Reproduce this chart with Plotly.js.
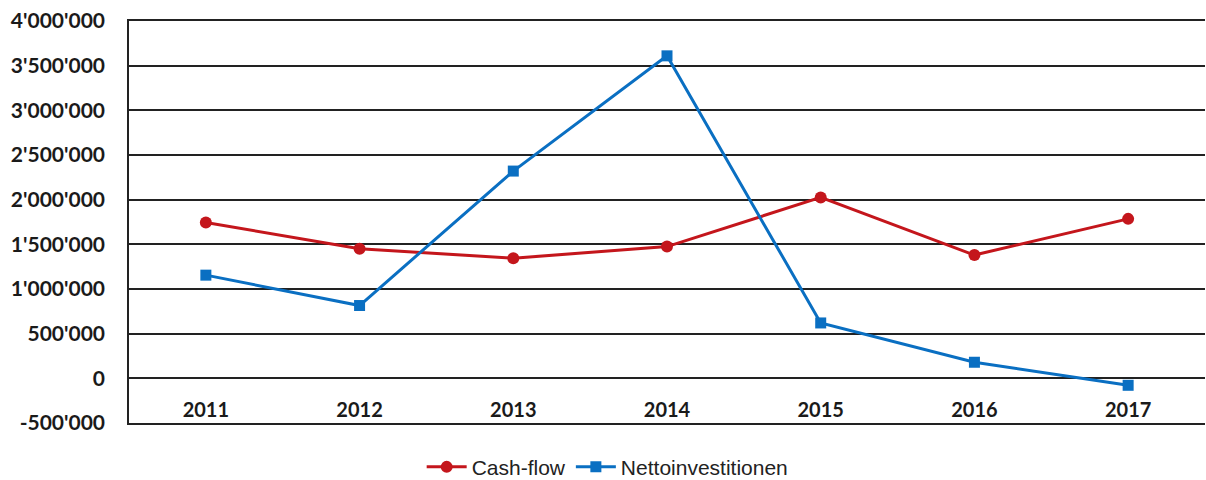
<!DOCTYPE html>
<html>
<head>
<meta charset="utf-8">
<script src="https://cdn.plot.ly/plotly-3.0.1.min.js"></script>
<style>
  html, body { margin: 0; padding: 0; background: #fff; }
  #chart { width: 1206px; height: 480px; }
</style>
</head>
<body>
<div id="chart"></div>
<script>
const years = ['2011', '2012', '2013', '2014', '2015', '2016', '2017'];
const cashFlow = [1745000, 1450000, 1345000, 1475000, 2025000, 1380000, 1785000];
const nettoinvestitionen = [1155000, 815000, 2320000, 3610000, 620000, 180000, -78000];
const yTickVals = [-500000, 0, 500000, 1000000, 1500000, 2000000, 2500000, 3000000, 3500000, 4000000];
const yTickText = ["-500'000", "0", "500'000", "1'000'000", "1'500'000", "2'000'000", "2'500'000", "3'000'000", "3'500'000", "4'000'000"];

const yMin = -500000, yMax = 4000000;

const traces = [
  {
    x: years, y: cashFlow, name: 'Cash-flow', type: 'scatter', mode: 'lines+markers',
    xaxis: 'x', yaxis: 'y',
    line: { color: '#c4161c', width: 3 },
    marker: { symbol: 'circle', size: 12, color: '#c4161c' }
  },
  {
    x: years, y: nettoinvestitionen, name: 'Nettoinvestitionen', type: 'scatter', mode: 'lines+markers',
    xaxis: 'x2', yaxis: 'y',
    line: { color: '#0a6fc2', width: 3 },
    marker: { symbol: 'square', size: 11, color: '#0a6fc2' }
  }
];

const labelFont = { family: 'Lato, Carlito, sans-serif', size: 20, color: '#1a1a1a', weight: 'bold' };

const layout = {
  width: 1206, height: 480,
  margin: { l: 129, r: 1, t: 21, b: 57, autoexpand: false },
  paper_bgcolor: '#fff', plot_bgcolor: '#fff',
  showlegend: true,
  legend: {
    orientation: 'h', x: 0.272, xanchor: 'left',
    y: -0.11, yanchor: 'middle',
    font: { family: 'Liberation Sans, Arial, sans-serif', size: 21, color: '#222' },
    itemwidth: 40
  },
  xaxis: {
    type: 'category',
    categoryarray: years, categoryorder: 'array',
    range: [-0.5, 6.5],
    anchor: 'y',
    showgrid: false, zeroline: false,
    showline: true, mirror: true, linecolor: '#222', linewidth: 1.8,
    ticks: '',
    showticklabels: false,
    fixedrange: true
  },
  xaxis2: {
    type: 'category',
    categoryarray: years, categoryorder: 'array',
    overlaying: 'x', matches: 'x',
    anchor: 'free',
    position: (0 - yMin) / (yMax - yMin),
    side: 'bottom',
    showgrid: false, zeroline: false, showline: false,
    ticks: '',
    ticklabelstandoff: 18,
    tickfont: labelFont,
    fixedrange: true
  },
  yaxis: {
    range: [yMin, yMax],
    tickvals: yTickVals, ticktext: yTickText,
    showgrid: true, gridcolor: '#222', gridwidth: 1.8,
    zeroline: false,
    showline: true, linecolor: '#222', linewidth: 1.8,
    ticks: '',
    ticklabelstandoff: 18,
    tickfont: { family: 'Lato, Carlito, sans-serif', size: 21, color: '#1a1a1a', weight: 'bold' },
    fixedrange: true
  }
};

Plotly.newPlot('chart', traces, layout, { displayModeBar: false, staticPlot: true });
</script>
</body>
</html>
